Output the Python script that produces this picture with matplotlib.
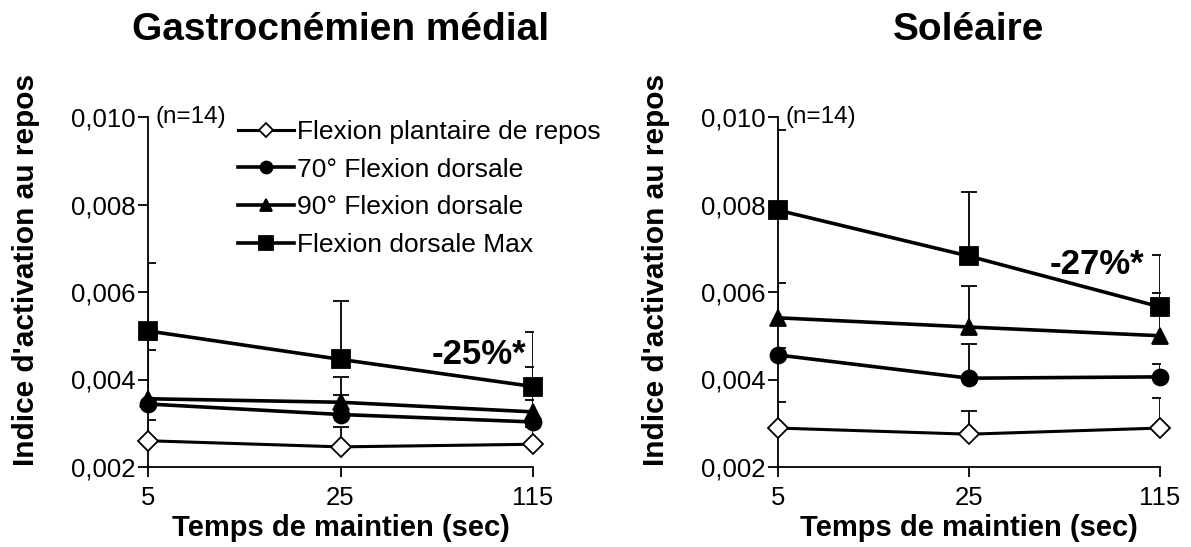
import matplotlib
matplotlib.use("Agg")
import matplotlib.pyplot as plt
from matplotlib.ticker import FuncFormatter, FixedLocator

plt.rcParams['font.family'] = ['Liberation Sans', 'DejaVu Sans']

times = ["5", "25", "115"]
series_labels = ["Flexion plantaire de repos", "70° Flexion dorsale",
                 "90° Flexion dorsale", "Flexion dorsale Max"]

# Gastrocnémien médial: means and upper error (SD)
gm_plantaire = [0.00260, 0.00246, 0.00252]
gm_70 = [0.00344, 0.00320, 0.00303]
gm_90 = [0.00356, 0.00348, 0.00326]
gm_max = [0.00511, 0.00446, 0.00384]
gm_plantaire_err = [0.00047, 0.00045, 0.00040]
gm_70_err = [0.00123, 0.00045, 0.00050]
gm_90_err = [0.00134, 0.00058, 0.00103]
gm_max_err = [0.00155, 0.00134, 0.00125]

# Soléaire
sol_plantaire = [0.00289, 0.00275, 0.00289]
sol_70 = [0.00456, 0.00403, 0.00406]
sol_90 = [0.00541, 0.00520, 0.00500]
sol_max = [0.00787, 0.00682, 0.00566]
sol_plantaire_err = [0.00060, 0.00053, 0.00069]
sol_70_err = [0.00015, 0.00078, 0.00030]
sol_90_err = [0.00079, 0.00094, 0.00098]
sol_max_err = [0.00183, 0.00147, 0.00119]

markers = ['D', 'o', '^', 's']
marker_sizes = [10, 11.5, 12, 12.5]
face = ['white', 'black', 'black', 'black']

W, H = 1191, 547
fig = plt.figure(figsize=(W / 100, H / 100), dpi=100)

def px_axes(x0, x1, ytop, ybot):
    return fig.add_axes([x0 / W, 1 - ybot / H, (x1 - x0) / W, (ybot - ytop) / H])

ax1 = px_axes(148, 533, 117, 467)
ax2 = px_axes(778, 1160, 117, 467)

def draw(ax, means, errs, title, ann, ann_xy, ylab_x, legend=False):
    x = list(range(len(times)))
    handles = []
    for i, (m, e) in enumerate(zip(means, errs)):
        ax.errorbar(x, m, yerr=[[0] * len(e), e], fmt='none', ecolor='black',
                    elinewidth=1.3, capsize=6, capthick=1.3, zorder=2, clip_on=True)
        h, = ax.plot(x, m, color='black', lw=2.6 if i != 0 else 2.2,
                     marker=markers[i], ms=marker_sizes[i], mfc=face[i],
                     mec='black', mew=1.3, zorder=3 + i, clip_on=False,
                     label=series_labels[i])
        handles.append(h)
    ax.set_xlim(0, 2)
    ax.set_ylim(0.002, 0.010)
    ax.set_xticks(x)
    ax.set_xticklabels(times)
    ax.yaxis.set_major_locator(FixedLocator([0.002, 0.004, 0.006, 0.008, 0.010]))
    ax.yaxis.set_major_formatter(FuncFormatter(lambda v, p: f"{v:.3f}".replace('.', ',')))
    for s in ['top', 'right']:
        ax.spines[s].set_visible(False)
    for s in ['left', 'bottom']:
        ax.spines[s].set_linewidth(1.3)
    ax.tick_params(axis='both', direction='out', length=7, width=1.3,
                   labelsize=18.5, colors='black')
    ax.tick_params(axis='y', pad=2)
    ax.tick_params(axis='x', pad=7)
    ax.set_xlabel("Temps de maintien (sec)", fontsize=21, fontweight='bold')
    ax.xaxis.set_label_coords(0.5, -0.133)
    ax.set_ylabel("Indice d'activation au repos", fontsize=21.5, fontweight='bold')
    ax.yaxis.set_label_coords(ylab_x, 0.563)
    ax.text(0.02, 1.0, "(n=14)", transform=ax.transAxes, fontsize=17.5,
            va='center', ha='left')
    ax.text(ann_xy[0], ann_xy[1], ann, fontsize=25, fontweight='bold',
            ha='center', va='center')
    cx = (ax.get_position().x0 + ax.get_position().x1) / 2
    fig.text(cx, 1 - 30 / H, title, fontsize=28, fontweight='bold',
             ha='center', va='center')
    if legend:
        ax.legend(handles=handles, loc='upper left',
                  bbox_to_anchor=(0.235, 0.992), frameon=False,
                  fontsize=19, handlelength=2.1, handletextpad=0.1,
                  labelspacing=0.52, borderaxespad=0, borderpad=0,
                  markerscale=0.75)

draw(ax1, [gm_plantaire, gm_70, gm_90, gm_max],
     [gm_plantaire_err, gm_70_err, gm_90_err, gm_max_err],
     "Gastrocnémien médial", "-25%*", (1.72, 0.00458), -0.28, legend=True)
draw(ax2, [sol_plantaire, sol_70, sol_90, sol_max],
     [sol_plantaire_err, sol_70_err, sol_90_err, sol_max_err],
     "Soléaire", "-27%*", (1.67, 0.00664), -0.283)

fig.savefig("out.png", dpi=100)
